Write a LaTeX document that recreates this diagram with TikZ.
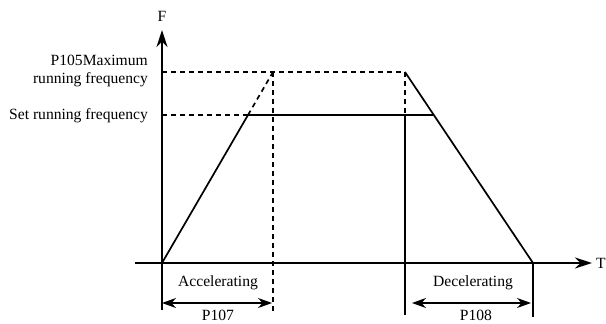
\documentclass[tikz,border=0pt]{standalone}
\usepackage{fontspec}
\setmainfont{Liberation Serif}
\usetikzlibrary{arrows.meta}
\begin{document}
\begin{tikzpicture}[x=1pt,y=-1pt,
  ln/.style={line width=1.7pt},
  dsh/.style={line width=1.7pt,dash pattern=on 5pt off 4pt},
  lbl/.style={font=\fontsize{15.6}{18}\selectfont,inner sep=0pt},
  tip/.style={-{Stealth[length=17pt,width=11pt]}},
  dtip/.style={{Stealth[length=14pt,width=10pt]}-{Stealth[length=14pt,width=10pt]}}]
\useasboundingbox (0,0) rectangle (606,324);
% coordinates
\coordinate (O) at (162,263);
\coordinate (Ybot) at (162,310);
\coordinate (Ytop) at (162,30);
\coordinate (Xl) at (135,263);
\coordinate (Xr) at (592,263);
\coordinate (Ma) at (162,72);
\coordinate (Mb) at (273,72);
\coordinate (Mc) at (405,72);
\coordinate (Sa) at (162,115);
\coordinate (Sb) at (248,115);
\coordinate (Sc) at (433,115);
\coordinate (Sd) at (405,115);
\coordinate (E) at (533,263);
\coordinate (Ebot) at (533,317);
\coordinate (Abot) at (273,313);
\coordinate (Dbot) at (405,315);
\coordinate (A1) at (162,303);
\coordinate (A2) at (272,303);
\coordinate (D1) at (412,303);
\coordinate (D2) at (531,303);
% axes
\draw[ln,tip] (Ybot) -- (Ytop);
\draw[ln,tip] (Xl) -- (Xr);
\node[lbl] (F) at (162,16) {F};
\node[lbl] (T) at (601,263) {T};
% dashed lines
\draw[dsh] (Ma) -- (Mc);
\draw[dsh] (Sa) -- (Sb);
\draw[dsh] (Sb) -- (Mb);
\draw[dsh] (Mb) -- (Abot);
\draw[dsh] (Mc) -- (Sd);
% solid profile
\draw[ln] (O) -- (Sb) -- (Sc);
\draw[ln] (Mc) -- (E);
\draw[ln] (Sd) -- (Dbot);
\draw[ln] (E) -- (Ebot);
% labels
\node[lbl,anchor=east,align=right] (maxl) at (148,71) {P105Maximum\\running frequency};
\node[lbl,anchor=east] (setl) at (148,116) {Set running frequency};
\node[lbl] (acc) at (218,283) {Accelerating};
\node[lbl] (dec) at (473,283) {Decelerating};
\node[lbl] (p107) at (218,315) {P107};
\node[lbl] (p108) at (476,315) {P108};
\draw[ln,dtip] (A1) -- (A2);
\draw[ln,dtip] (D1) -- (D2);
\end{tikzpicture}
\end{document}
